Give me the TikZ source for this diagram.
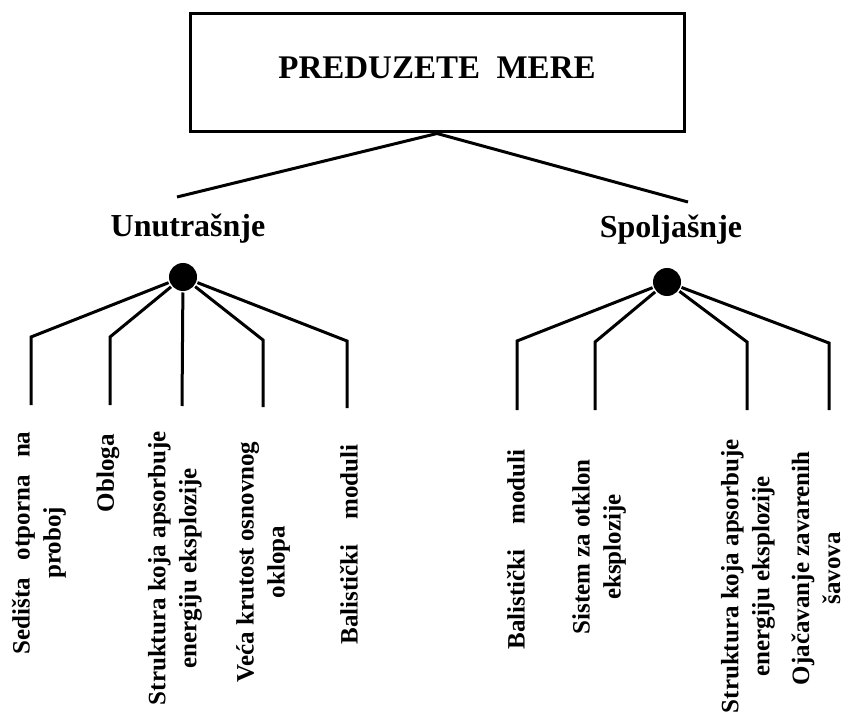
\documentclass[tikz,border=0pt]{standalone}
\usepackage{fontspec}
\setmainfont{Liberation Serif}
\tikzset{
  leaf/.style={rotate=90,anchor=east,align=center,inner sep=0pt,
    font=\bfseries\fontsize{25}{31}\selectfont},
  group/.style={anchor=base,inner sep=0pt,font=\bfseries\fontsize{32}{36}\selectfont},
  dot/.style={circle,fill,inner sep=0pt,minimum size=28pt}
}
\begin{document}
\begin{tikzpicture}[x=1pt,y=-1pt,line width=3pt]
  \useasboundingbox (0,0) rectangle (846,719);
  \node[draw,minimum width=494pt,minimum height=118pt,text depth=11pt,
    font=\bfseries\fontsize{33}{38}\selectfont] (mere) at (437,73) {PREDUZETE\ \ MERE};
  \node[group] (unu) at (188,237) {Unutrašnje};
  \node[group] (spo) at (671,238) {Spoljašnje};
  \coordinate (cu) at (177,197); %kraj linije lijevo
  \coordinate (cs) at (688,202); %kraj linije desno
  \draw (mere.south) -- (cu);
  \draw (mere.south) -- (cs);
  \node[dot] (du) at (183,277) {};
  \node[dot] (ds) at (667,282) {};
  % unutrasnje mere
  \coordinate (ku1) at (31,337);  \coordinate (bu1) at (31,405);
  \coordinate (ku2) at (110,337); \coordinate (bu2) at (110,405);
  \coordinate (bu3) at (182,406);
  \coordinate (ku4) at (263,340); \coordinate (bu4) at (263,407);
  \coordinate (ku5) at (347,341); \coordinate (bu5) at (347,408);
  \draw (du) -- (ku1) -- (bu1);
  \draw (du) -- (ku2) -- (bu2);
  \draw (du) -- (bu3);
  \draw (du) -- (ku4) -- (bu4);
  \draw (du) -- (ku5) -- (bu5);
  \node[leaf] (u1) at (39,430) {Sedišta\hspace{0.7em}otporna\hspace{0.7em}na\\proboj};
  \node[leaf] (u2) at (108,433) {Obloga};
  \node[leaf] (u3) at (175,430) {Struktura koja apsorbuje\\energiju eksplozije};
  \node[leaf] (u4) at (263,440) {Veća krutost osnovnog\\oklopa};
  \node[leaf] (u5) at (349,443) {Balistički\quad moduli};
  % spoljasnje mere
  \coordinate (ks1) at (517,341); \coordinate (bs1) at (517,410);
  \coordinate (ks2) at (595,342); \coordinate (bs2) at (595,410);
  \coordinate (ks3) at (747,342); \coordinate (bs3) at (747,410);
  \coordinate (ks4) at (829,343); \coordinate (bs4) at (829,410);
  \draw (ds) -- (ks1) -- (bs1);
  \draw (ds) -- (ks2) -- (bs2);
  \draw (ds) -- (ks3) -- (bs3);
  \draw (ds) -- (ks4) -- (bs4);
  \node[leaf] (s1) at (516,448) {Balistički\quad moduli};
  \node[leaf] (s2) at (599,458) {Sistem za otklon\\eksplozije};
  \node[leaf] (s3) at (748,438) {Struktura koja apsorbuje\\energiju eksplozije};
  \node[leaf] (s4) at (816,450) {Ojačavanje zavarenih\\šavova};
\end{tikzpicture}
\end{document}
